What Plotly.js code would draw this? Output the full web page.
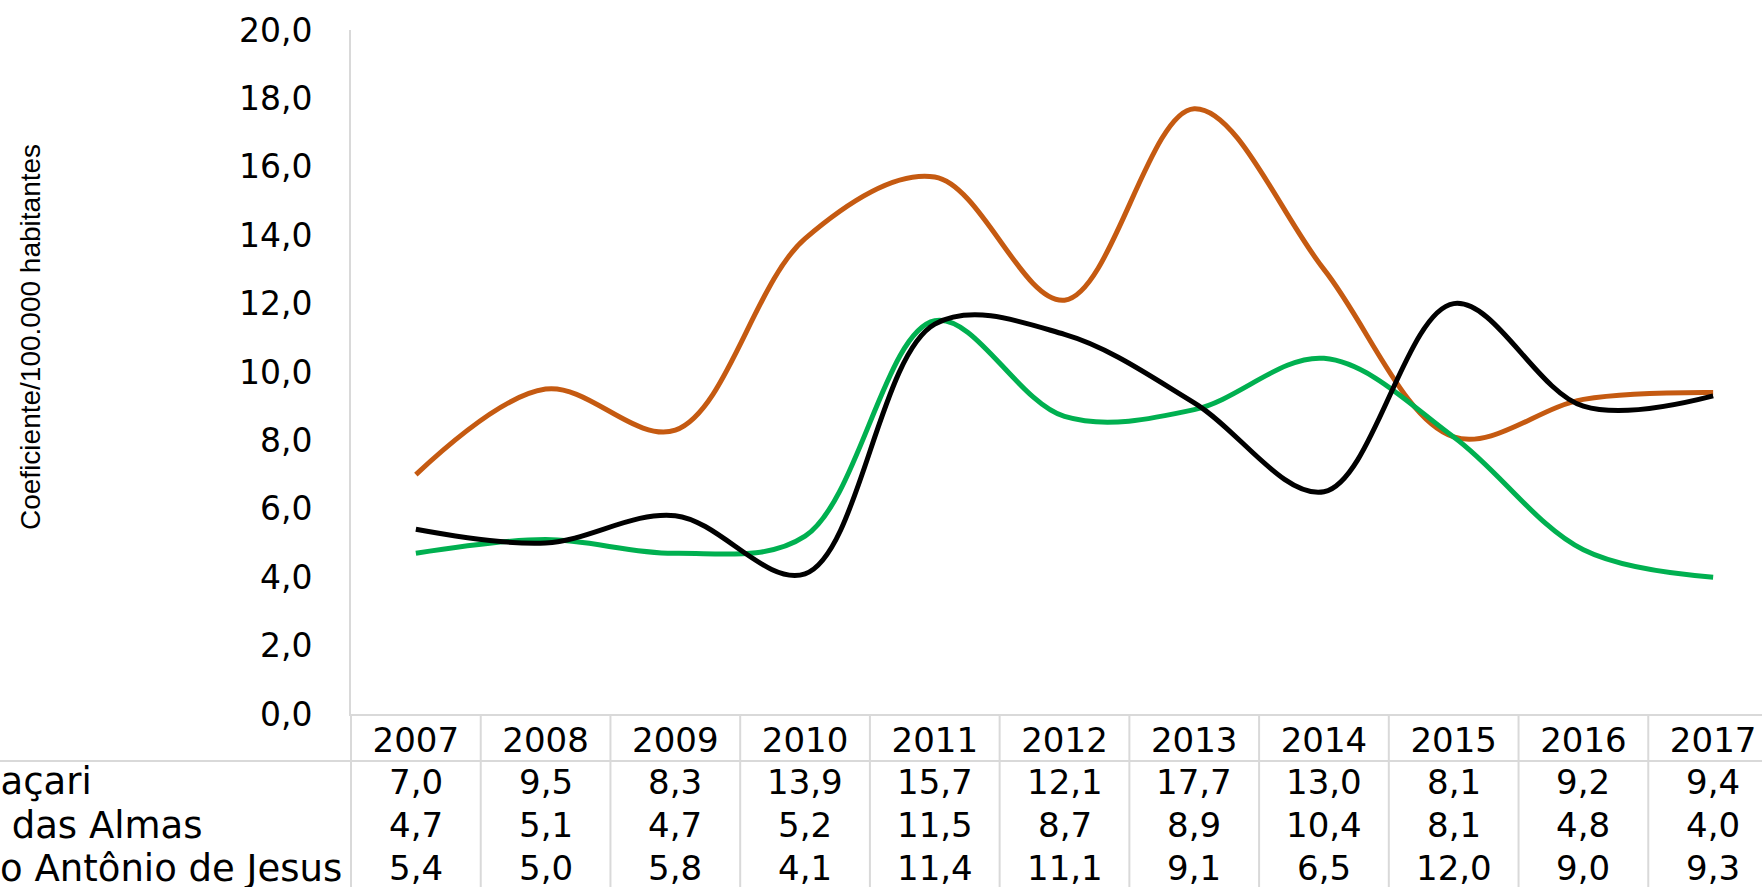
<!DOCTYPE html>
<html>
<head>
<meta charset="utf-8">
<script src="https://cdn.plot.ly/plotly-3.0.1.min.js"></script>
<style>
  html, body { margin: 0; padding: 0; width: 1762px; height: 887px; overflow: hidden; background: #fff; }
  #chart { position: absolute; left: -100px; top: 0; width: 1928px; height: 887px; }
</style>
</head>
<body>
<div id="chart"></div>
<script>
// ---- data ----
const years = ['2007','2008','2009','2010','2011','2012','2013','2014','2015','2016','2017'];
const seriesNames = ['Camaçari', 'Cruz das Almas', 'Santo Antônio de Jesus'];
const camacari     = [7.0, 9.5, 8.3, 13.9, 15.7, 12.1, 17.7, 13.0, 8.1, 9.2, 9.4];
const cruzDasAlmas = [4.7, 5.1, 4.7, 5.2, 11.5, 8.7, 8.9, 10.4, 8.1, 4.8, 4.0];
const santoAntonio = [5.4, 5.0, 5.8, 4.1, 11.4, 11.1, 9.1, 6.5, 12.0, 9.0, 9.3];
const yTitle = 'Coeficiente/100.000 habitantes';

// ---- styles ----
const seriesValues = [camacari, cruzDasAlmas, santoAntonio];
const seriesColors = ['#C55A11', '#00B050', '#000000'];
const gridColor = '#D9D9D9';
const numFont = 'DejaVu Sans, Liberation Sans, Arial, sans-serif';
const titleFont = 'Liberation Sans, Arial, sans-serif';

// ---- geometry (px) ----
const divOffset = 100;
const marginL = 451, marginT = 30, plotW = 1427, plotH = 684;
const totalW = 1928, totalH = 887;
const rowCentersPx = [781.5, 825, 868];        // page y of table rows
const yearRowLinePx = 761;
const paperY = py => -(py - (marginT + plotH)) / plotH;
const paperX = px => (px + divOffset - marginL) / plotW;

const fmt = v => v.toFixed(1).replace('.', ',');

const traces = seriesValues.map((vals, i) => ({
  type: 'scatter',
  mode: 'lines',
  name: seriesNames[i],
  x: years,
  y: vals,
  line: { color: seriesColors[i], width: 5, shape: 'spline', smoothing: 1 },
  hoverinfo: 'skip'
}));

const annotations = [];
// y axis title
annotations.push({
  xref: 'paper', yref: 'paper',
  x: paperX(30), y: paperY(337),
  xanchor: 'center', yanchor: 'middle',
  textangle: -90, showarrow: false,
  text: yTitle,
  font: { family: titleFont, size: 28, color: '#000' }
});
seriesValues.forEach((vals, r) => {
  // row label (left aligned, clipped at page left)
  annotations.push({
    xref: 'paper', yref: 'paper',
    x: paperX(-86), y: paperY(rowCentersPx[r]),
    xanchor: 'left', yanchor: 'middle',
    text: seriesNames[r], showarrow: false,
    font: { family: numFont, size: 37, color: '#000' }
  });
  vals.forEach((v, c) => {
    annotations.push({
      xref: 'x', yref: 'paper',
      x: c, y: paperY(rowCentersPx[r]),
      xanchor: 'center', yanchor: 'middle',
      text: fmt(v), showarrow: false,
      font: { family: numFont, size: 34, color: '#000' }
    });
  });
});

const shapes = [];
// horizontal line under year row
shapes.push({ type: 'line', xref: 'paper', yref: 'paper', x0: -0.4, x1: 1.2,
  y0: paperY(yearRowLinePx), y1: paperY(yearRowLinePx), line: { color: gridColor, width: 2 } });
// left border of table
shapes.push({ type: 'line', xref: 'paper', yref: 'paper', x0: 0, x1: 0,
  y0: 0, y1: -0.3, line: { color: gridColor, width: 2 } });
// column separators
for (let i = 0; i < years.length - 1; i++) {
  shapes.push({ type: 'line', xref: 'x', yref: 'paper', x0: i + 0.5, x1: i + 0.5,
    y0: 0, y1: -0.3, line: { color: gridColor, width: 2 } });
}

const layout = {
  width: totalW, height: totalH,
  margin: { l: marginL, r: totalW - marginL - plotW, t: marginT, b: totalH - marginT - plotH },
  paper_bgcolor: '#fff', plot_bgcolor: '#fff',
  separators: ',.',
  showlegend: false,
  xaxis: {
    type: 'category', range: [-0.5, 10.5], autorange: false,
    showgrid: false, zeroline: false,
    showline: true, linecolor: gridColor, linewidth: 2,
    ticks: '', ticklabelstandoff: -5,
    tickfont: { family: numFont, size: 34, color: '#000' }
  },
  yaxis: {
    range: [0, 20], autorange: false, dtick: 2, tick0: 0,
    tickformat: '.1f',
    showgrid: false, zeroline: false,
    showline: true, linecolor: gridColor, linewidth: 2,
    ticks: '', ticklabelstandoff: 30,
    tickfont: { family: numFont, size: 33, color: '#000' }
  },
  annotations: annotations,
  shapes: shapes
};

Plotly.newPlot('chart', traces, layout, { staticPlot: true, displayModeBar: false });
</script>
</body>
</html>
